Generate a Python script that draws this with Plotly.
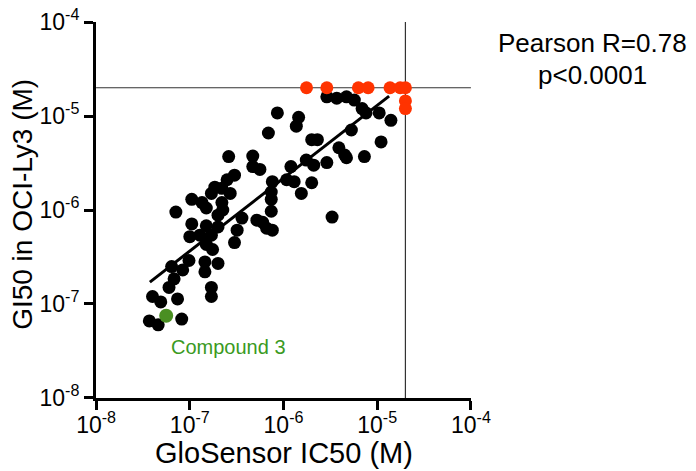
import plotly.graph_objects as go

# --- data (molar) ---
black_x = [3.7e-8, 4.6e-8, 8.2e-8, 4.0e-8, 4.9e-8, 7.4e-8, 6.0e-8, 6.8e-8, 6.4e-8, 8.4e-8,
           9.8e-8, 1.45e-7, 2.0e-7, 1.45e-7, 1.7e-7, 1.7e-7, 1.5e-7, 1.75e-7, 3.0e-7,
           2.6e-7, 3.0e-7, 2.5e-7, 1.85e-7, 2.2e-7, 1.7e-7, 1.05e-7, 1.35e-7, 2.2e-7, 1.5e-7,
           2.25e-7, 2.0e-7, 7.1e-8, 1.05e-7, 1.5e-7, 2.0e-7, 1.0e-7, 1.28e-7, 1.7e-7, 2.7e-7,
           4.7e-7, 4.7e-7, 5.6e-7, 1.2e-6, 1.75e-6, 2.1e-6, 2.9e-6, 7.6e-7, 1.08e-6, 1.3e-6,
           1.55e-6, 2.0e-6, 7.4e-7, 7.4e-7, 7.4e-7, 5.2e-7, 6.0e-7, 6.6e-7, 7.6e-7, 3.6e-7,
           3.2e-7, 3.3e-6,
           8.6e-7, 1.45e-6, 1.37e-6, 6.9e-7, 2.0e-6, 2.3e-6, 2.9e-6, 3.7e-6, 4.7e-6, 5.7e-6,
           6.9e-6, 7.6e-6, 1.05e-5, 1.4e-5, 5.3e-6, 1.1e-5, 3.9e-6, 4.5e-6, 4.7e-6, 7.3e-6]
black_y = [6.6e-8, 6.0e-8, 6.9e-8, 1.2e-7, 1.05e-7, 1.13e-7, 1.5e-7, 1.85e-7, 2.5e-7, 2.3e-7,
           2.9e-7, 2.8e-7, 2.7e-7, 2.2e-7, 1.5e-7, 1.2e-7, 4.3e-7, 3.8e-7, 4.5e-7,
           3.7e-6, 2.35e-6, 2.1e-6, 1.75e-6, 1.7e-6, 1.5e-6, 1.3e-6, 1.2e-6, 1.2e-6, 1.05e-6,
           1.0e-6, 8.8e-7, 9.5e-7, 7.1e-7, 6.8e-7, 6.6e-7, 5.2e-7, 5.4e-7, 5.4e-7, 1.5e-6,
           3.75e-6, 2.9e-6, 2.7e-6, 2.9e-6, 3.4e-6, 3.0e-6, 3.2e-6, 2.0e-6, 2.1e-6, 2.0e-6,
           1.5e-6, 1.95e-6, 1.55e-6, 1.3e-6, 9.7e-7, 7.8e-7, 7.4e-7, 6.4e-7, 6.1e-7, 8.2e-7,
           6.1e-7, 8.4e-7,
           1.08e-5, 9.7e-6, 7.8e-6, 6.6e-6, 5.6e-6, 5.6e-6, 1.6e-5, 1.55e-5, 1.6e-5, 1.48e-5,
           1.2e-5, 1.08e-5, 1.08e-5, 9.0e-6, 7.1e-6, 5.3e-6, 4.6e-6, 3.85e-6, 3.6e-6, 3.7e-6]

red_x = [1.76e-6, 2.9e-6, 6.3e-6, 8.0e-6, 1.37e-5, 1.76e-5, 2.0e-5, 2.0e-5, 2.0e-5]
red_y = [2.0e-5, 2.0e-5, 2.0e-5, 2.0e-5, 2.0e-5, 2.0e-5, 2.0e-5, 1.45e-5, 1.2e-5]

green_x = [5.6e-8]
green_y = [7.5e-8]

fit_x = [3.75e-8, 1.34e-5]
fit_y = [1.71e-7, 1.63e-5]

cutoff = 2.0e-5
axis_min, axis_max = 1e-8, 1e-4

tick_vals = [1e-8, 1e-7, 1e-6, 1e-5, 1e-4]
tick_text = ["10<sup>-8</sup>", "10<sup>-7</sup>", "10<sup>-6</sup>", "10<sup>-5</sup>", "10<sup>-4</sup>"]

FONT = "Liberation Sans, Arial, Helvetica, sans-serif"

fig = go.Figure()

# reference cutoff lines
fig.add_trace(go.Scatter(x=[axis_min, axis_max], y=[cutoff, cutoff], mode="lines",
                         line=dict(color="#333333", width=1.2), hoverinfo="skip", cliponaxis=False))
fig.add_trace(go.Scatter(x=[cutoff, cutoff], y=[axis_min, axis_max], mode="lines",
                         line=dict(color="#333333", width=1.2), hoverinfo="skip", cliponaxis=False))

fig.add_trace(go.Scatter(x=black_x, y=black_y, mode="markers",
                         marker=dict(color="black", size=13, line=dict(width=0))))
fig.add_trace(go.Scatter(x=fit_x, y=fit_y, mode="lines", line=dict(color="black", width=3)))
fig.add_trace(go.Scatter(x=red_x, y=red_y, mode="markers", cliponaxis=False,
                         marker=dict(color="#ff3300", size=13, line=dict(width=0))))
fig.add_trace(go.Scatter(x=green_x, y=green_y, mode="markers",
                         marker=dict(color="#4a8f22", size=14, line=dict(width=0))))

axis_common = dict(type="log", range=[-8.001, -3.999], tickvals=tick_vals, ticktext=tick_text,
                   showgrid=False, zeroline=False, showline=True, linecolor="black",
                   linewidth=3, ticks="outside", ticklen=9, tickwidth=2.5, tickcolor="black",
                   automargin=False, ticklabeloverflow="allow",
                   tickfont=dict(family=FONT, size=23, color="black"))

fig.update_xaxes(**axis_common, ticklabelstandoff=-5)
fig.update_yaxes(**axis_common)

annotations = [
    dict(text="GloSensor IC50 (M)", xref="paper", yref="paper", x=0.5, y=-0.146,
         showarrow=False, xanchor="center", yanchor="middle",
         font=dict(family=FONT, size=29, color="black")),
    dict(text="GI50 in OCI-Ly3 (M)", xref="paper", yref="paper", x=-0.195, y=0.516,
         showarrow=False, xanchor="center", yanchor="middle", textangle=-90,
         font=dict(family=FONT, size=28, color="black")),
    dict(text="Pearson R=0.78", xref="paper", yref="paper", x=1.323, y=0.944,
         showarrow=False, xanchor="center", yanchor="middle",
         font=dict(family=FONT, size=26, color="black")),
    dict(text="p<0.0001", xref="paper", yref="paper", x=1.323, y=0.859,
         showarrow=False, xanchor="center", yanchor="middle",
         font=dict(family=FONT, size=26, color="black")),
    dict(text="Compound 3", xref="paper", yref="paper", x=0.352, y=0.136,
         showarrow=False, xanchor="center", yanchor="middle",
         font=dict(family=FONT, size=20, color="#3a9a22")),
]

# page body has an 8px margin: offset margins so the plot area lands at x 96-471, y 22-398
fig.update_layout(width=696, height=471, showlegend=False,
                  margin=dict(l=88, r=233, t=14, b=81, pad=0, autoexpand=False),
                  plot_bgcolor="white", paper_bgcolor="white",
                  annotations=annotations)

fig.write_html("out.html")
